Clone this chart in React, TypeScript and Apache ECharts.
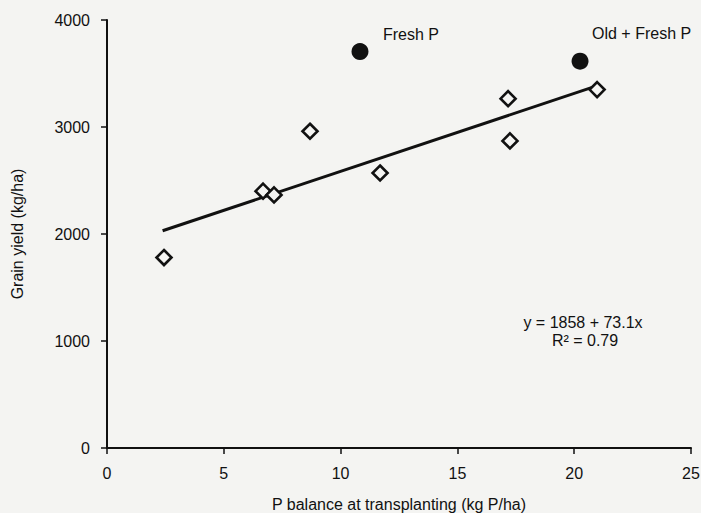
import React, { useEffect, useRef } from "react";
import * as echarts from "echarts";

// Measured points (P balance kg P/ha, grain yield kg/ha)
const diamondPoints: [number, number][] = [
  [2.44, 1780],
  [6.68, 2400],
  [7.15, 2365],
  [8.69, 2960],
  [11.69, 2570],
  [17.17, 3265],
  [17.25, 2870],
  [20.98, 3350],
];
const freshP: [number, number][] = [[10.83, 3705]];
const oldFreshP: [number, number][] = [[20.25, 3615]];
// Regression line endpoints
const regressionLine: [number, number][] = [
  [2.38, 2030],
  [20.9, 3380],
];
const xTicks = { min: 0, max: 25, interval: 5 };
const yTicks = { min: 0, max: 4000, interval: 1000 };
const equationText = "y = 1858 + 73.1x";
const r2Text = "R\u00B2 = 0.79";
const freshLabel = "Fresh P";
const oldFreshLabel = "Old + Fresh P";
const xTitle = "P balance at transplanting (kg P/ha)";
const yTitle = "Grain yield (kg/ha)";

const FONT = "'Liberation Sans', Arial, Helvetica, sans-serif";
const BG = "#f4f4f2";
const INK = "#111";

export default function App() {
  const ref = useRef<HTMLDivElement>(null);
  useEffect(() => {
    if (!ref.current) return;
    const chart = echarts.init(ref.current, undefined, { renderer: "svg" });
    const axisCommon = {
      axisLine: { show: true, lineStyle: { color: INK, width: 2 } },
      axisTick: { show: true, inside: false, length: 6, lineStyle: { color: INK, width: 1.5 } },
      splitLine: { show: false },
      nameLocation: "middle" as const,
      nameTextStyle: { fontFamily: FONT, fontSize: 16, color: INK },
    };
    chart.setOption({
      animation: false,
      backgroundColor: BG,
      textStyle: { fontFamily: FONT },
      grid: { left: 107, right: 10, top: 20, bottom: 65, containLabel: false, outerBoundsMode: "none" },
      xAxis: {
        type: "value",
        ...xTicks,
        ...axisCommon,
        name: xTitle,
        nameGap: 48,
        axisLabel: { margin: 17, fontFamily: FONT, fontSize: 16, color: INK, formatter: (v: number) => String(v) },
      },
      yAxis: {
        type: "value",
        ...yTicks,
        ...axisCommon,
        name: yTitle,
        nameGap: 82,
        axisLabel: { margin: 17, fontFamily: FONT, fontSize: 16, color: INK, formatter: (v: number) => String(v) },
      },
      series: [
        {
          type: "line",
          data: regressionLine,
          symbol: "none",
          lineStyle: { color: INK, width: 3 },
          z: 2,
        },
        {
          type: "scatter",
          data: diamondPoints,
          symbol: "diamond",
          symbolSize: [15, 15],
          itemStyle: { color: BG, borderColor: INK, borderWidth: 2.6, opacity: 1 },
          z: 3,
        },
        {
          type: "scatter",
          data: freshP,
          symbol: "circle",
          symbolSize: 17,
          itemStyle: { color: INK, opacity: 1 },
          z: 3,
        },
        {
          type: "scatter",
          data: oldFreshP,
          symbol: "circle",
          symbolSize: 17,
          itemStyle: { color: INK, opacity: 1 },
          z: 3,
        },
      ],
      graphic: [
        {
          type: "text",
          left: 383,
          top: 26,
          style: { text: freshLabel, fontFamily: FONT, fontSize: 16, fill: INK },
        },
        {
          type: "text",
          left: 592,
          top: 25,
          style: { text: oldFreshLabel, fontFamily: FONT, fontSize: 16, fill: INK },
        },
        {
          type: "text",
          x: 583,
          y: 322,
          style: {
            text: equationText,
            fontFamily: FONT,
            fontSize: 16,
            fill: INK,
            align: "center",
            verticalAlign: "middle",
          },
        },
        {
          type: "text",
          x: 585,
          y: 340,
          style: {
            text: r2Text,
            fontFamily: FONT,
            fontSize: 16,
            fill: INK,
            align: "center",
            verticalAlign: "middle",
          },
        },
      ],
    });
    return () => chart.dispose();
  }, []);
  return <div ref={ref} style={{ width: 701, height: 513, position: "fixed", left: 0, top: 0 }} />;
}
